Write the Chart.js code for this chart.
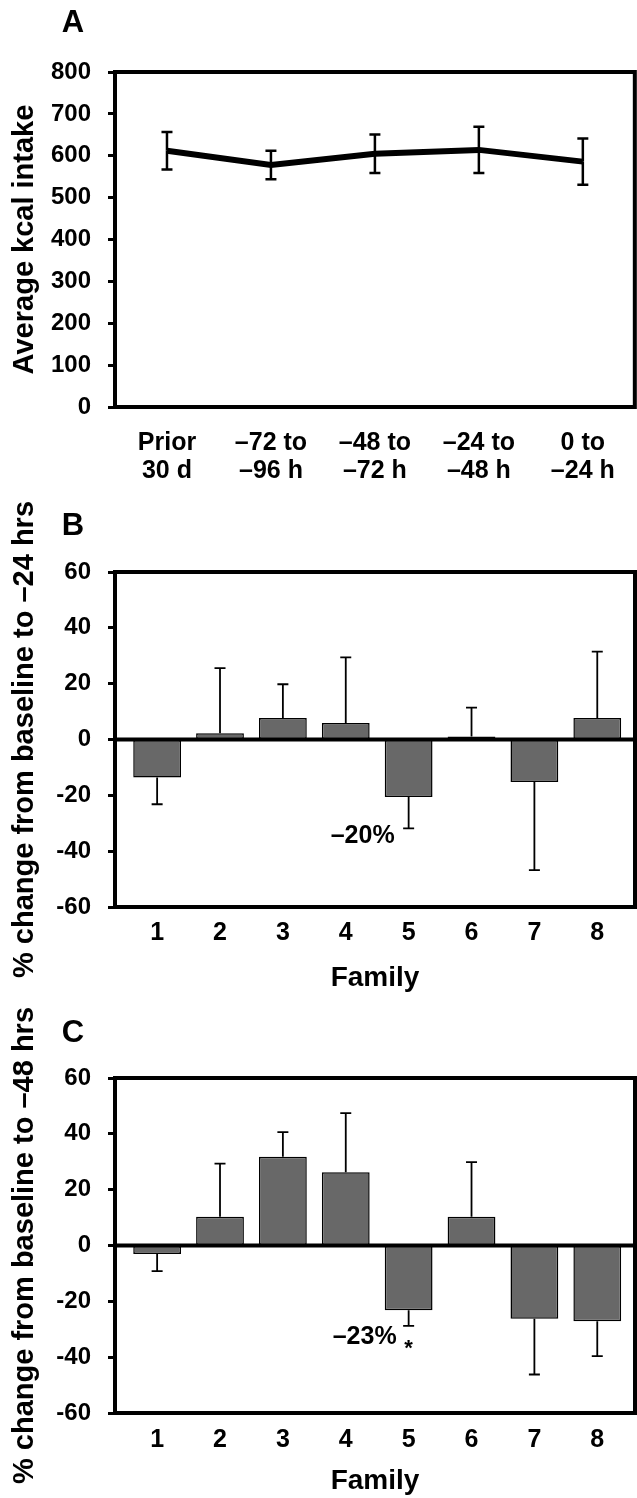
<!DOCTYPE html>
<html>
<head>
<meta charset="utf-8">
<script src="https://cdn.jsdelivr.net/npm/chart.js@4.4.1/dist/chart.umd.min.js"></script>
<style>
  body { margin: 0; background: #fff; }
  .page { position: relative; width: 637px; height: 1498px; overflow: hidden; }
  .panel { position: absolute; left: 0; width: 637px; }
  .letter { position: absolute; font: bold 31px "Liberation Sans", Arial, sans-serif; transform: translate(-50%, -50%); }
</style>
</head>
<body>
<div class="page">
  <div class="panel" style="top:0;height:500px"><canvas id="chartA"></canvas></div>
  <div class="panel" style="top:500px;height:500px"><canvas id="chartB"></canvas></div>
  <div class="panel" style="top:1006px;height:492px"><canvas id="chartC"></canvas></div>
  <div class="letter" style="left:73px;top:22px">A</div>
  <div class="letter" style="left:73px;top:525px">B</div>
  <div class="letter" style="left:73px;top:1032px">C</div>
</div>
<script>
var periods = [["Prior", "30 d"], ["–72 to", "–96 h"], ["–48 to", "–72 h"], ["–24 to", "–48 h"], ["0 to", "–24 h"]];
var kcal = [612, 578, 605, 614, 586];
var kcalErr = [45, 34, 46, 55, 55];
var kcalTicks = [0, 100, 200, 300, 400, 500, 600, 700, 800];

var families = [1, 2, 3, 4, 5, 6, 7, 8];
var change24 = [-13.6, 2.2, 7.7, 5.9, -20.6, 1.1, -15.2, 7.7];
var change24Err = [9.6, 23.4, 12.1, 23.5, 11.2, 10.3, 31.6, 23.8];
var change48 = [-3, 10.3, 31.8, 26.2, -23.2, 10.3, -26.2, -27.1];
var change48Err = [6.2, 19, 8.8, 21.2, 5.6, 19.6, 20, 12.5];
var pctTicks = [-60, -40, -20, 0, 20, 40, 60];

var FONT = "'Liberation Sans', Arial, sans-serif";
Chart.defaults.font.family = FONT;
Chart.defaults.font.weight = "bold";
Chart.defaults.color = "#000";
Chart.defaults.animation = false;

// error bars, zero line, box frame and text notes
var extras = {
  id: "extras",
  afterDatasetsDraw(chart, args, opts) {
    const ctx = chart.ctx, a = chart.chartArea;
    const y = chart.scales.y;
    const ds = chart.data.datasets[0];
    const meta = chart.getDatasetMeta(0);
    ctx.save();
    ctx.strokeStyle = "#000";
    ctx.lineWidth = opts.errWidth;
    ds.data.forEach((d, i) => {
      const v = typeof d === "object" ? d.y : d;
      const px = meta.data[i].x;
      const e = ds.err[i];
      const ends = opts.oneSided ? [v + Math.sign(v) * e] : [v + e, v - e];
      ends.forEach(end => {
        const py = y.getPixelForValue(end);
        ctx.beginPath();
        ctx.moveTo(px, y.getPixelForValue(v));
        ctx.lineTo(px, py);
        ctx.moveTo(px - opts.cap, py);
        ctx.lineTo(px + opts.cap, py);
        ctx.stroke();
      });
    });
    ctx.lineWidth = 4;
    if (opts.zeroLine) {
      const zy = y.getPixelForValue(0);
      ctx.beginPath();
      ctx.moveTo(a.left, zy);
      ctx.lineTo(a.right, zy);
      ctx.stroke();
    }
    ctx.strokeRect(a.left, a.top, a.right - a.left, a.bottom - a.top);
    (opts.notes || []).forEach(n => {
      ctx.font = "bold " + n.size + "px " + FONT;
      ctx.fillStyle = "#000";
      ctx.textAlign = n.align;
      ctx.textBaseline = "middle";
      ctx.fillText(n.text, meta.data[n.i].x + n.dx, y.getPixelForValue(n.y));
    });
    ctx.restore();
  }
};

function yAxis(min, max, vals, title) {
  return {
    min: min, max: max,
    afterBuildTicks: s => { s.ticks = vals.map(v => ({ value: v })); },
    afterFit: s => { s.width = 115; },
    grid: { drawOnChartArea: false, drawTicks: true, tickLength: 7, tickWidth: 3, tickColor: "#000" },
    border: { display: false },
    ticks: { padding: 17, font: { size: 24, weight: "bold" } },
    title: { display: true, text: title, font: { size: 29, weight: "bold" }, padding: { top: 8 } }
  };
}

var xTickFont = { size: 25, weight: "bold", lineHeight: 1.12 };

new Chart("chartA", {
  type: "line",
  data: {
    labels: periods,
    datasets: [{
      data: kcal,
      err: kcalErr,
      borderColor: "#000",
      borderWidth: 6,
      pointRadius: 0,
      tension: 0,
      fill: false
    }]
  },
  options: {
    responsive: true,
    maintainAspectRatio: false,
    layout: { padding: { top: 72, right: 2, left: 0, bottom: 0 } },
    scales: {
      x: {
        offset: true,
        afterFit: s => { s.height = 93; },
        grid: { display: false, drawTicks: false },
        border: { display: false },
        ticks: { padding: 22, maxRotation: 0, autoSkip: false, font: xTickFont }
      },
      y: yAxis(0, 800, kcalTicks, "Average kcal intake")
    },
    plugins: {
      legend: { display: false },
      tooltip: { enabled: false },
      extras: { errWidth: 2.5, cap: 5.5, oneSided: false, zeroLine: false }
    }
  },
  plugins: [extras]
});

function barChart(id, values, errs, title, xHeight, xPad, famPad, notes) {
  new Chart(id, {
    type: "bar",
    data: {
      datasets: [{
        data: families.map((f, i) => ({ x: f, y: values[i] })),
        err: errs,
        backgroundColor: "#686868",
        borderColor: "#000",
        borderWidth: 1.5,
        borderSkipped: false,
        categoryPercentage: 1,
        barPercentage: 0.76
      }]
    },
    options: {
      responsive: true,
      maintainAspectRatio: false,
      layout: { padding: { top: 72, right: 2, left: 0, bottom: 0 } },
      scales: {
        x: {
          type: "linear",
          min: 0.33, max: 8.6,
          offset: false,
          afterBuildTicks: s => { s.ticks = families.map(v => ({ value: v })); },
          afterFit: s => { s.height = xHeight; },
          grid: { display: false, drawTicks: false },
          border: { display: false },
          ticks: { padding: xPad, maxRotation: 0, autoSkip: false, font: xTickFont },
          title: { display: true, text: "Family", font: { size: 28, weight: "bold" }, padding: { bottom: famPad } }
        },
        y: yAxis(-60, 60, pctTicks, title)
      },
      plugins: {
        legend: { display: false },
        tooltip: { enabled: false },
        extras: { errWidth: 1.8, cap: 5.5, oneSided: true, zeroLine: true, notes: notes }
      }
    },
    plugins: [extras]
  });
}

barChart("chartB", change24, change24Err, "% change from baseline to –24 hrs", 93, 12, 5,
  [{ text: "–20%", i: 4, y: -34.6, dx: -14, align: "right", size: 25 }]);

barChart("chartC", change48, change48Err, "% change from baseline to –48 hrs", 85, 13, 0,
  [{ text: "–23%", i: 4, y: -32.8, dx: -12, align: "right", size: 25 },
   { text: "*", i: 4, y: -37, dx: 0, align: "center", size: 22 }]);
</script>
</body>
</html>
